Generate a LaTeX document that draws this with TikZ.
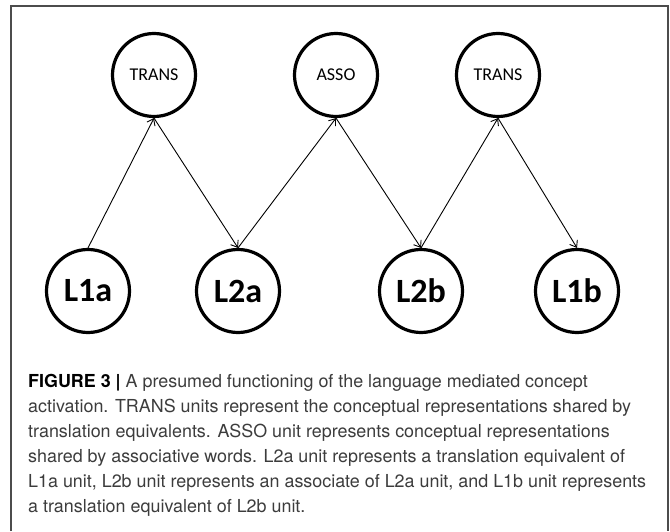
\documentclass[tikz,border=0pt]{standalone}
\usepackage{fontspec}
\setmainfont{TeX Gyre Heros}
\newfontfamily\calibri{Carlito}
\usetikzlibrary{arrows.meta}

\definecolor{captext}{HTML}{3C3C3C}

\begin{document}
\begin{tikzpicture}[x=1pt, y=1pt,
  main/.style={draw, circle, line width=3.2pt, minimum size=83pt, inner sep=0pt},
  small/.style={font=\calibri\fontsize{18}{18}\selectfont},
  big/.style={font=\calibri\bfseries\fontsize{34}{34}\selectfont},
  link/.style={line width=0.9pt, -{Straight Barb[length=6pt,width=9pt]}},
  capline/.style={anchor=base west, inner sep=0pt, text=captext, font=\fontsize{17.9}{25}\selectfont}]
  \useasboundingbox (0,0) rectangle (670,531);
  \draw[line width=1.5pt, black!70] (11,0) -- (11,525) -- (668,525) -- (668,0);

  % concept units
  \node[main, small] (t1) at (154,456) {TRANS};
  \node[main, small] (as) at (336,456) {ASSO};
  \node[main, small] (t2) at (498,456) {TRANS};

  % lexical units
  \node[main, big] (l1a) at (88,240) {L1a};
  \node[main, big] (l2a) at (238,240) {L2a};
  \node[main, big] (l2b) at (421,240) {L2b};
  \node[main, big] (l1b) at (577,240) {L1b};

  \draw[link] (l1a.north) -- (t1.south);
  \draw[link] (t1.south) -- (l2a.north);
  \draw[link] (l2a.north) -- (as.south);
  \draw[link] (as.south) -- (l2b.north);
  \draw[link] (l2b.north) -- (t2.south);
  \draw[link] (t2.south) -- (l1b.north);

  % caption
  \foreach \txt [count=\i] in {
    {{\color{black}\bfseries FIGURE 3 |} A presumed functioning of the language mediated concept},
    {activation. TRANS units represent the conceptual representations shared by},
    {translation equivalents. ASSO unit represents conceptual representations},
    {shared by associative words. L2a unit represents a translation equivalent of},
    {L1a unit, L2b unit represents an associate of L2a unit, and L1b unit represents},
    {a translation equivalent of L2b unit.}}
    \node[capline] (cap\i) at (28,169-25*\i) {\txt};
\end{tikzpicture}
\end{document}
